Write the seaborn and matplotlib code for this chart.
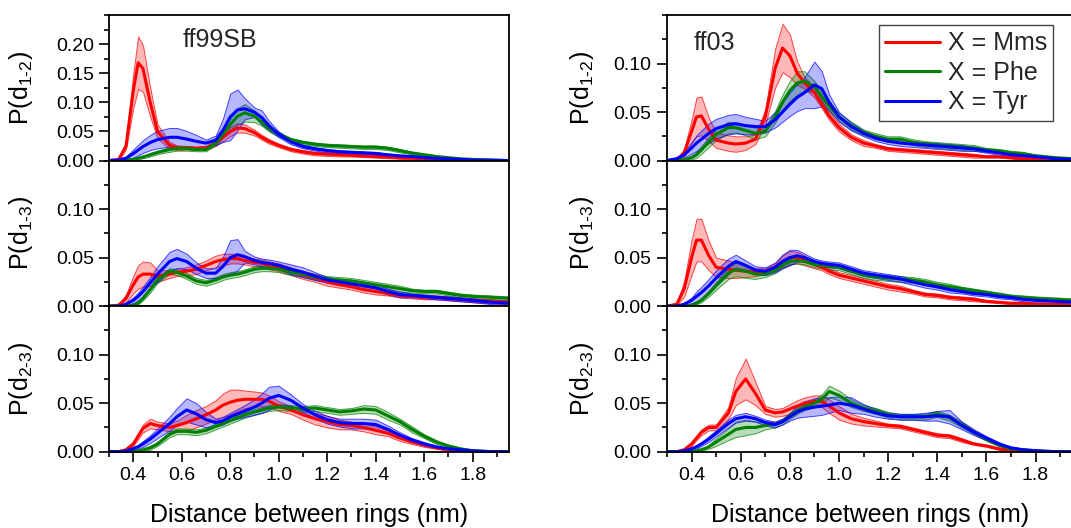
import numpy as np
import pandas as pd
import matplotlib
matplotlib.use("Agg")
import matplotlib.pyplot as plt
import seaborn as sns
from matplotlib.ticker import MultipleLocator, FixedLocator, FormatStrFormatter
from matplotlib.colors import to_rgb

# ---------------- data ----------------
X = [0.30, 0.34, 0.37, 0.40, 0.42, 0.44, 0.47, 0.50, 0.55, 0.58,
     0.62, 0.66, 0.70, 0.74, 0.77, 0.80, 0.83, 0.86, 0.90, 0.93,
     0.96, 1.00, 1.05, 1.10, 1.15, 1.20, 1.25, 1.30, 1.35, 1.40,
     1.45, 1.50, 1.55, 1.60, 1.65, 1.70, 1.75, 1.80, 1.88, 1.95]

SERIES = ["X = Mms", "X = Phe", "X = Tyr"]
COLORS = ["#FF0000", "#008000", "#0000FF"]
YLABELS = ["1-2", "1-3", "2-3"]
FF_NAMES = ["ff99SB", "ff03"]

# ff99SB, d1-2
ff99_d12_mms = [0, 0.002, 0.025, 0.12, 0.168, 0.158, 0.10, 0.05, 0.026, 0.022,
                0.022, 0.021, 0.022, 0.030, 0.040, 0.050, 0.056, 0.055, 0.048, 0.040,
                0.033, 0.026, 0.019, 0.015, 0.012, 0.011, 0.010, 0.009, 0.008, 0.007,
                0.006, 0.005, 0.004, 0.003, 0.002, 0.002, 0.001, 0.001, 0, 0]
ff99_d12_mms_hw = [0, 0.001, 0.006, 0.03, 0.045, 0.04, 0.025, 0.012, 0.006, 0.004,
                   0.003, 0.003, 0.003, 0.005, 0.007, 0.008, 0.008, 0.007, 0.005, 0.004,
                   0.004, 0.003, 0.003, 0.003, 0.003, 0.003, 0.003, 0.002, 0.002, 0.002,
                   0.002, 0.002, 0.002, 0.001, 0.001, 0.001, 0.001, 0.001, 0, 0]
ff99_d12_phe = [0, 0, 0.001, 0.002, 0.004, 0.006, 0.010, 0.014, 0.019, 0.021,
                0.021, 0.019, 0.019, 0.030, 0.045, 0.062, 0.076, 0.082, 0.076, 0.066,
                0.055, 0.045, 0.036, 0.031, 0.028, 0.026, 0.025, 0.024, 0.023, 0.023,
                0.021, 0.017, 0.013, 0.010, 0.007, 0.005, 0.003, 0.002, 0.001, 0]
ff99_d12_phe_hw = [0, 0, 0.001, 0.001, 0.002, 0.002, 0.003, 0.003, 0.004, 0.004,
                   0.004, 0.003, 0.003, 0.004, 0.006, 0.010, 0.014, 0.015, 0.010, 0.006,
                   0.005, 0.004, 0.003, 0.003, 0.003, 0.003, 0.003, 0.003, 0.003, 0.003,
                   0.003, 0.003, 0.002, 0.002, 0.002, 0.001, 0.001, 0.001, 0, 0]
ff99_d12_tyr = [0, 0.001, 0.004, 0.012, 0.018, 0.024, 0.031, 0.036, 0.040, 0.040,
                0.037, 0.033, 0.030, 0.035, 0.052, 0.075, 0.087, 0.089, 0.083, 0.074,
                0.060, 0.045, 0.032, 0.024, 0.020, 0.017, 0.015, 0.014, 0.013, 0.012,
                0.010, 0.008, 0.007, 0.005, 0.004, 0.003, 0.002, 0.001, 0.0005, 0]
ff99_d12_tyr_hw = [0, 0.001, 0.003, 0.007, 0.009, 0.011, 0.013, 0.015, 0.016, 0.016,
                   0.014, 0.011, 0.006, 0.008, 0.020, 0.040, 0.035, 0.018, 0.008, 0.012,
                   0.008, 0.005, 0.004, 0.003, 0.003, 0.003, 0.003, 0.003, 0.003, 0.003,
                   0.002, 0.002, 0.002, 0.002, 0.001, 0.001, 0.001, 0.001, 0, 0]

# ff99SB, d1-3
ff99_d13_mms = [0, 0.001, 0.008, 0.022, 0.030, 0.033, 0.033, 0.031, 0.033, 0.035,
                0.036, 0.038, 0.042, 0.046, 0.048, 0.049, 0.049, 0.047, 0.045, 0.044,
                0.042, 0.040, 0.036, 0.032, 0.029, 0.025, 0.022, 0.020, 0.017, 0.015,
                0.013, 0.011, 0.010, 0.009, 0.009, 0.008, 0.007, 0.006, 0.005, 0.004]
ff99_d13_mms_hw = [0, 0.001, 0.004, 0.009, 0.012, 0.013, 0.012, 0.006, 0.004, 0.004,
                   0.004, 0.005, 0.005, 0.006, 0.006, 0.005, 0.005, 0.004, 0.004, 0.004,
                   0.004, 0.004, 0.004, 0.004, 0.004, 0.004, 0.003, 0.003, 0.003, 0.003,
                   0.002, 0.002, 0.002, 0.002, 0.002, 0.002, 0.002, 0.002, 0.002, 0.002]
ff99_d13_phe = [0, 0, 0, 0.001, 0.003, 0.008, 0.017, 0.027, 0.036, 0.035,
                0.031, 0.026, 0.024, 0.027, 0.030, 0.032, 0.033, 0.035, 0.038, 0.039,
                0.039, 0.038, 0.035, 0.033, 0.030, 0.028, 0.027, 0.026, 0.024, 0.022,
                0.020, 0.018, 0.016, 0.015, 0.015, 0.013, 0.011, 0.010, 0.009, 0.008]
ff99_d13_phe_hw = [0, 0, 0, 0.001, 0.001, 0.002, 0.003, 0.003, 0.003, 0.003,
                   0.003, 0.003, 0.003, 0.003, 0.003, 0.003, 0.003, 0.003, 0.003, 0.003,
                   0.003, 0.003, 0.003, 0.003, 0.003, 0.003, 0.003, 0.003, 0.003, 0.003,
                   0.003, 0.003, 0.002, 0.002, 0.002, 0.002, 0.002, 0.002, 0.002, 0.002]
ff99_d13_tyr = [0, 0, 0.002, 0.006, 0.010, 0.015, 0.024, 0.033, 0.046, 0.049,
                0.046, 0.039, 0.034, 0.034, 0.041, 0.050, 0.053, 0.051, 0.047, 0.045,
                0.044, 0.042, 0.038, 0.035, 0.031, 0.027, 0.025, 0.023, 0.021, 0.019,
                0.015, 0.012, 0.011, 0.010, 0.009, 0.008, 0.007, 0.006, 0.004, 0.003]
ff99_d13_tyr_hw = [0, 0, 0.001, 0.003, 0.004, 0.005, 0.006, 0.008, 0.010, 0.010,
                   0.008, 0.006, 0.005, 0.005, 0.010, 0.018, 0.016, 0.006, 0.004, 0.004,
                   0.004, 0.004, 0.005, 0.005, 0.004, 0.003, 0.003, 0.003, 0.003, 0.003,
                   0.003, 0.003, 0.002, 0.002, 0.002, 0.002, 0.002, 0.002, 0.002, 0.002]

# ff99SB, d2-3
ff99_d23_mms = [0, 0, 0.002, 0.008, 0.016, 0.024, 0.029, 0.027, 0.025, 0.027,
                0.030, 0.034, 0.038, 0.043, 0.048, 0.051, 0.053, 0.054, 0.054, 0.054,
                0.052, 0.047, 0.043, 0.038, 0.034, 0.031, 0.028, 0.027, 0.025, 0.022,
                0.019, 0.014, 0.010, 0.007, 0.004, 0.002, 0.001, 0, 0, 0]
ff99_d23_mms_hw = [0, 0, 0.001, 0.002, 0.003, 0.004, 0.005, 0.004, 0.004, 0.005,
                   0.008, 0.009, 0.009, 0.010, 0.012, 0.013, 0.011, 0.009, 0.008, 0.007,
                   0.006, 0.005, 0.004, 0.005, 0.006, 0.006, 0.005, 0.004, 0.004, 0.004,
                   0.003, 0.003, 0.002, 0.002, 0.001, 0.001, 0, 0, 0, 0]
ff99_d23_phe = [0, 0, 0, 0, 0.001, 0.002, 0.004, 0.008, 0.018, 0.021,
                0.021, 0.020, 0.022, 0.026, 0.029, 0.032, 0.035, 0.038, 0.041, 0.043,
                0.045, 0.046, 0.045, 0.044, 0.045, 0.043, 0.041, 0.042, 0.044, 0.043,
                0.037, 0.031, 0.023, 0.016, 0.010, 0.006, 0.003, 0.001, 0, 0]
ff99_d23_phe_hw = [0, 0, 0, 0, 0.001, 0.001, 0.002, 0.002, 0.003, 0.003,
                   0.003, 0.003, 0.003, 0.003, 0.003, 0.003, 0.003, 0.003, 0.003, 0.003,
                   0.003, 0.003, 0.003, 0.003, 0.003, 0.003, 0.003, 0.003, 0.004, 0.004,
                   0.004, 0.003, 0.003, 0.002, 0.002, 0.001, 0.001, 0.001, 0, 0]
ff99_d23_tyr = [0, 0, 0.001, 0.003, 0.005, 0.008, 0.013, 0.019, 0.029, 0.036,
                0.043, 0.039, 0.033, 0.030, 0.032, 0.036, 0.039, 0.042, 0.046, 0.050,
                0.055, 0.058, 0.053, 0.045, 0.038, 0.033, 0.030, 0.029, 0.029, 0.028,
                0.023, 0.017, 0.012, 0.008, 0.005, 0.003, 0.002, 0.001, 0, 0]
ff99_d23_tyr_hw = [0, 0, 0.001, 0.002, 0.002, 0.003, 0.004, 0.005, 0.007, 0.009,
                   0.012, 0.011, 0.008, 0.004, 0.004, 0.004, 0.005, 0.006, 0.008, 0.010,
                   0.012, 0.010, 0.006, 0.004, 0.004, 0.004, 0.004, 0.005, 0.005, 0.005,
                   0.004, 0.003, 0.002, 0.002, 0.001, 0.001, 0, 0, 0, 0]

# ff03, d1-2
ff03_d12_mms = [0, 0.001, 0.008, 0.030, 0.045, 0.046, 0.032, 0.021, 0.018, 0.017,
                0.018, 0.022, 0.045, 0.095, 0.116, 0.108, 0.090, 0.080, 0.070, 0.058,
                0.046, 0.034, 0.024, 0.018, 0.015, 0.012, 0.011, 0.010, 0.009, 0.008,
                0.007, 0.006, 0.005, 0.004, 0.004, 0.003, 0.002, 0.002, 0.001, 0]
ff03_d12_mms_hw = [0, 0.001, 0.004, 0.012, 0.020, 0.020, 0.012, 0.008, 0.008, 0.008,
                   0.007, 0.005, 0.008, 0.020, 0.025, 0.022, 0.012, 0.006, 0.005, 0.004,
                   0.004, 0.004, 0.003, 0.003, 0.002, 0.002, 0.002, 0.002, 0.002, 0.002,
                   0.002, 0.002, 0.002, 0.001, 0.001, 0.001, 0.001, 0.001, 0.001, 0]
ff03_d12_phe = [0, 0, 0.001, 0.003, 0.006, 0.011, 0.019, 0.027, 0.034, 0.034,
                0.031, 0.028, 0.030, 0.045, 0.060, 0.072, 0.080, 0.082, 0.076, 0.066,
                0.056, 0.045, 0.036, 0.029, 0.025, 0.022, 0.022, 0.019, 0.017, 0.016,
                0.015, 0.014, 0.013, 0.011, 0.010, 0.008, 0.007, 0.005, 0.003, 0.002]
ff03_d12_phe_hw = [0, 0, 0.001, 0.002, 0.003, 0.004, 0.005, 0.006, 0.006, 0.005,
                   0.005, 0.006, 0.005, 0.006, 0.008, 0.010, 0.012, 0.010, 0.006, 0.005,
                   0.005, 0.004, 0.004, 0.003, 0.003, 0.003, 0.003, 0.003, 0.003, 0.003,
                   0.003, 0.003, 0.003, 0.002, 0.002, 0.002, 0.002, 0.001, 0.001, 0.001]
ff03_d12_tyr = [0, 0.002, 0.006, 0.013, 0.018, 0.022, 0.028, 0.033, 0.037, 0.038,
                0.036, 0.035, 0.035, 0.042, 0.050, 0.058, 0.065, 0.070, 0.078, 0.074,
                0.060, 0.045, 0.035, 0.028, 0.023, 0.020, 0.018, 0.017, 0.016, 0.015,
                0.014, 0.013, 0.012, 0.010, 0.008, 0.006, 0.005, 0.004, 0.002, 0.001]
ff03_d12_tyr_hw = [0, 0.001, 0.003, 0.006, 0.008, 0.009, 0.010, 0.010, 0.010, 0.010,
                   0.009, 0.008, 0.006, 0.008, 0.010, 0.012, 0.014, 0.016, 0.024, 0.018,
                   0.008, 0.005, 0.004, 0.003, 0.003, 0.003, 0.003, 0.003, 0.003, 0.003,
                   0.003, 0.003, 0.002, 0.002, 0.002, 0.001, 0.001, 0.001, 0.001, 0]

# ff03, d1-3
ff03_d13_mms = [0, 0.002, 0.018, 0.050, 0.068, 0.068, 0.052, 0.040, 0.038, 0.037,
                0.036, 0.035, 0.036, 0.040, 0.046, 0.050, 0.050, 0.047, 0.043, 0.040,
                0.036, 0.032, 0.029, 0.026, 0.023, 0.020, 0.018, 0.015, 0.012, 0.011,
                0.009, 0.008, 0.007, 0.005, 0.004, 0.003, 0.003, 0.002, 0.002, 0.001]
ff03_d13_mms_hw = [0, 0.001, 0.008, 0.018, 0.022, 0.022, 0.015, 0.010, 0.009, 0.008,
                   0.006, 0.004, 0.003, 0.004, 0.006, 0.007, 0.006, 0.005, 0.004, 0.003,
                   0.003, 0.003, 0.003, 0.003, 0.003, 0.003, 0.003, 0.002, 0.002, 0.002,
                   0.002, 0.002, 0.002, 0.001, 0.001, 0.001, 0.001, 0.001, 0.001, 0.001]
ff03_d13_phe = [0, 0, 0, 0.001, 0.003, 0.006, 0.013, 0.021, 0.034, 0.038,
                0.036, 0.033, 0.033, 0.037, 0.042, 0.046, 0.047, 0.046, 0.043, 0.042,
                0.041, 0.040, 0.036, 0.032, 0.030, 0.029, 0.028, 0.027, 0.025, 0.022,
                0.020, 0.018, 0.016, 0.014, 0.012, 0.010, 0.009, 0.008, 0.007, 0.006]
ff03_d13_phe_hw = [0, 0, 0, 0.001, 0.001, 0.002, 0.003, 0.004, 0.006, 0.007,
                   0.007, 0.005, 0.003, 0.003, 0.003, 0.003, 0.003, 0.003, 0.003, 0.003,
                   0.003, 0.003, 0.003, 0.003, 0.003, 0.003, 0.003, 0.003, 0.003, 0.003,
                   0.003, 0.002, 0.002, 0.002, 0.002, 0.002, 0.002, 0.002, 0.002, 0.002]
ff03_d13_tyr = [0, 0, 0.002, 0.006, 0.010, 0.014, 0.021, 0.029, 0.041, 0.046,
                0.042, 0.037, 0.036, 0.040, 0.046, 0.050, 0.052, 0.050, 0.046, 0.044,
                0.043, 0.042, 0.038, 0.034, 0.032, 0.030, 0.028, 0.025, 0.022, 0.020,
                0.017, 0.015, 0.013, 0.012, 0.010, 0.009, 0.007, 0.006, 0.005, 0.004]
ff03_d13_tyr_hw = [0, 0, 0.001, 0.003, 0.005, 0.006, 0.007, 0.008, 0.008, 0.007,
                   0.005, 0.004, 0.004, 0.005, 0.007, 0.008, 0.006, 0.004, 0.003, 0.003,
                   0.003, 0.003, 0.003, 0.003, 0.003, 0.003, 0.003, 0.003, 0.003, 0.003,
                   0.003, 0.002, 0.002, 0.002, 0.002, 0.002, 0.002, 0.002, 0.002, 0.002]

# ff03, d2-3
ff03_d23_mms = [0, 0, 0.002, 0.008, 0.014, 0.020, 0.025, 0.025, 0.040, 0.062,
                0.075, 0.060, 0.043, 0.040, 0.041, 0.044, 0.047, 0.050, 0.052, 0.052,
                0.047, 0.040, 0.034, 0.031, 0.029, 0.027, 0.026, 0.023, 0.020, 0.017,
                0.016, 0.012, 0.008, 0.006, 0.003, 0.001, 0, 0, 0, 0]
ff03_d23_mms_hw = [0, 0, 0.001, 0.002, 0.002, 0.003, 0.003, 0.003, 0.006, 0.014,
                   0.021, 0.012, 0.004, 0.004, 0.004, 0.005, 0.006, 0.006, 0.006, 0.006,
                   0.007, 0.007, 0.005, 0.004, 0.003, 0.002, 0.002, 0.002, 0.002, 0.002,
                   0.002, 0.002, 0.001, 0.001, 0.001, 0.001, 0, 0, 0, 0]
ff03_d23_phe = [0, 0, 0, 0, 0.001, 0.002, 0.005, 0.010, 0.018, 0.023,
                0.025, 0.025, 0.027, 0.028, 0.031, 0.037, 0.042, 0.046, 0.050, 0.054,
                0.062, 0.058, 0.050, 0.045, 0.042, 0.038, 0.036, 0.036, 0.036, 0.039,
                0.035, 0.028, 0.020, 0.013, 0.007, 0.003, 0.002, 0.001, 0, 0]
ff03_d23_phe_hw = [0, 0, 0, 0, 0.001, 0.001, 0.002, 0.004, 0.006, 0.008,
                   0.008, 0.006, 0.004, 0.003, 0.003, 0.003, 0.003, 0.003, 0.004, 0.005,
                   0.006, 0.005, 0.004, 0.003, 0.003, 0.003, 0.003, 0.003, 0.003, 0.003,
                   0.003, 0.003, 0.002, 0.002, 0.001, 0.001, 0.001, 0, 0, 0]
ff03_d23_tyr = [0, 0, 0.001, 0.003, 0.005, 0.008, 0.013, 0.019, 0.029, 0.034,
                0.036, 0.034, 0.030, 0.028, 0.031, 0.036, 0.041, 0.044, 0.046, 0.047,
                0.048, 0.050, 0.048, 0.044, 0.040, 0.037, 0.036, 0.036, 0.036, 0.037,
                0.036, 0.027, 0.020, 0.014, 0.008, 0.004, 0.002, 0.001, 0, 0]
ff03_d23_tyr_hw = [0, 0, 0.001, 0.001, 0.002, 0.002, 0.003, 0.003, 0.004, 0.004,
                   0.004, 0.003, 0.003, 0.003, 0.003, 0.004, 0.006, 0.008, 0.009, 0.009,
                   0.008, 0.007, 0.008, 0.005, 0.004, 0.003, 0.003, 0.003, 0.004, 0.005,
                   0.007, 0.004, 0.003, 0.002, 0.002, 0.001, 0.001, 0, 0, 0]

PANELS = [
    [  # ff99SB column
        ([ff99_d12_mms, ff99_d12_phe, ff99_d12_tyr], [ff99_d12_mms_hw, ff99_d12_phe_hw, ff99_d12_tyr_hw]),
        ([ff99_d13_mms, ff99_d13_phe, ff99_d13_tyr], [ff99_d13_mms_hw, ff99_d13_phe_hw, ff99_d13_tyr_hw]),
        ([ff99_d23_mms, ff99_d23_phe, ff99_d23_tyr], [ff99_d23_mms_hw, ff99_d23_phe_hw, ff99_d23_tyr_hw]),
    ],
    [  # ff03 column
        ([ff03_d12_mms, ff03_d12_phe, ff03_d12_tyr], [ff03_d12_mms_hw, ff03_d12_phe_hw, ff03_d12_tyr_hw]),
        ([ff03_d13_mms, ff03_d13_phe, ff03_d13_tyr], [ff03_d13_mms_hw, ff03_d13_phe_hw, ff03_d13_tyr_hw]),
        ([ff03_d23_mms, ff03_d23_phe, ff03_d23_tyr], [ff03_d23_mms_hw, ff03_d23_phe_hw, ff03_d23_tyr_hw]),
    ],
]

# ---------------- style ----------------
sns.set_style("ticks")
plt.rcParams["font.family"] = ["Liberation Sans", "DejaVu Sans"]
plt.rcParams["mathtext.fontset"] = "custom"
plt.rcParams["mathtext.rm"] = "Liberation Sans"
plt.rcParams["mathtext.it"] = "Liberation Sans:italic"
plt.rcParams["mathtext.default"] = "regular"

fig = plt.figure(figsize=(10.71, 5.28), dpi=100)

col_left = [0.1018, 0.6228]
col_width = [0.3735, 0.3785]
h = 0.2757
bottoms = [0.6959, 0.4202, 0.1445]


def draw(ax, mids, hws):
    for name, color, mid, hw in zip(SERIES, COLORS, mids, hws):
        mid = np.asarray(mid, float)
        hw = np.asarray(hw, float)
        lo = np.clip(mid - hw, 0, None)
        hi = mid + hw
        df = pd.DataFrame({"x": np.tile(X, 3),
                           "y": np.concatenate([lo, mid, hi])})
        n0 = len(ax.collections)
        sns.lineplot(data=df, x="x", y="y", estimator="median",
                     errorbar=("pi", 100), color=color, lw=2.2, ax=ax,
                     legend=False, label=name,
                     err_kws={"alpha": 0.3, "linewidth": 0.7})
        r, g, b = to_rgb(color)
        for coll in ax.collections[n0:]:
            coll.set_alpha(None)
            coll.set_facecolor((r, g, b, 0.28))
            coll.set_edgecolor((r, g, b, 0.7))
            coll.set_linewidth(0.7)


axes = {}
for c in range(2):
    for r in range(3):
        ax = fig.add_axes([col_left[c], bottoms[r], col_width[c], h])
        axes[(c, r)] = ax
        mids, hws = PANELS[c][r]
        draw(ax, mids, hws)

        ax.set_xlim(0.3, 1.95)
        ax.xaxis.set_major_locator(FixedLocator([0.4, 0.6, 0.8, 1.0, 1.2, 1.4, 1.6, 1.8]))
        ax.xaxis.set_minor_locator(MultipleLocator(0.1))
        ax.xaxis.set_major_formatter(FormatStrFormatter("%.1f"))
        if c == 0 and r == 0:
            ax.set_ylim(0, 0.25)
            ax.yaxis.set_major_locator(FixedLocator([0, 0.05, 0.10, 0.15, 0.20]))
        else:
            ax.set_ylim(0, 0.15)
            ax.yaxis.set_major_locator(FixedLocator([0, 0.05, 0.10]))
        ax.yaxis.set_minor_locator(MultipleLocator(0.025))
        ax.yaxis.set_major_formatter(FormatStrFormatter("%.2f"))

        ax.tick_params(which="major", direction="out", length=7, width=1.2,
                       labelsize=14, top=False, right=False, pad=4,
                       color="black", labelcolor="black")
        ax.tick_params(which="minor", direction="out", length=3.5, width=1.2,
                       top=False, right=False, color="black")
        for s in ax.spines.values():
            s.set_linewidth(1.3)
            s.set_color("black")

        ax.set_ylabel(r"P(d$_{\mathregular{%s}}$)" % YLABELS[r].replace("-", r"\text{-}"),
                      fontsize=18, color="black")
        ax.yaxis.set_label_coords(-0.185 if c == 0 else -0.175, 0.5)
        if r == 2:
            ax.set_xlabel("Distance between rings (nm)", fontsize=18, color="black")
            ax.xaxis.set_label_coords(0.5, -0.35)
        else:
            ax.set_xlabel("")
            ax.tick_params(labelbottom=False)

axes[(0, 0)].text(0.277, 0.83, FF_NAMES[0], transform=axes[(0, 0)].transAxes,
                  ha="center", va="center", fontsize=18)
axes[(1, 0)].text(0.116, 0.81, FF_NAMES[1], transform=axes[(1, 0)].transAxes,
                  ha="center", va="center", fontsize=18)

ax_leg = axes[(1, 0)]
leg = ax_leg.legend(ax_leg.get_lines()[:3], SERIES, loc="upper right",
                    bbox_to_anchor=(1053 / 1071, 1 - 25 / 528),
                    bbox_transform=fig.transFigure, fontsize=18,
                    handlelength=2.2, handletextpad=0.3, labelspacing=0.22,
                    borderpad=0.25, borderaxespad=0, frameon=True,
                    fancybox=False, edgecolor="#444444", framealpha=1)
leg.get_frame().set_linewidth(1.0)

fig.savefig("out.png", dpi=100)
